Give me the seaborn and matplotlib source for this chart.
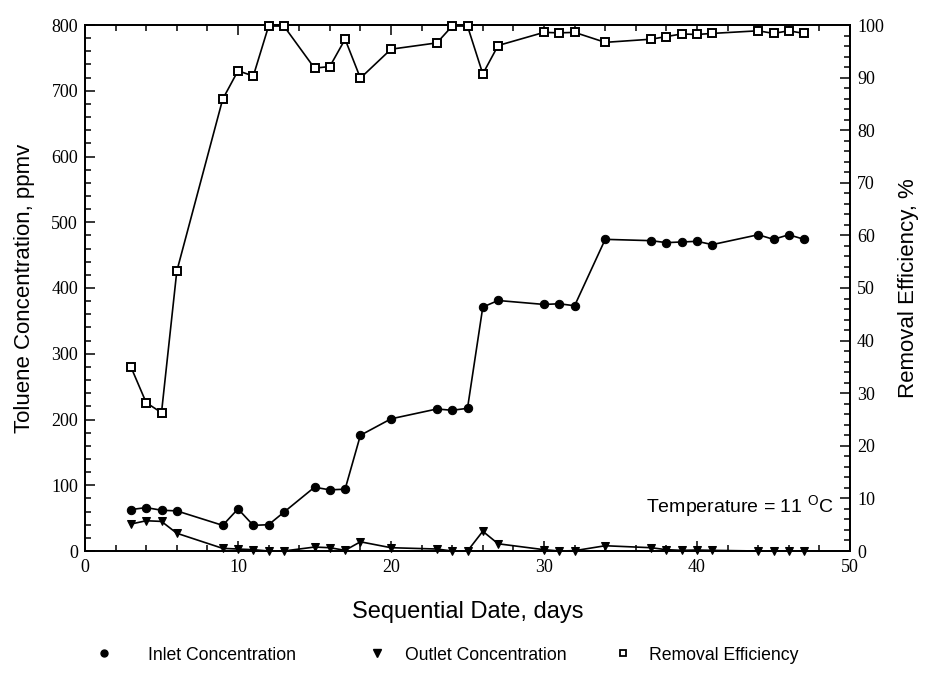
import matplotlib
matplotlib.use("Agg")
import matplotlib.pyplot as plt
import seaborn as sns
import pandas as pd
from matplotlib.lines import Line2D
from matplotlib.ticker import MultipleLocator

days = [3, 4, 5, 6, 9, 10, 11, 12, 13, 15, 16, 17, 18, 20, 23, 24, 25,
        26, 27, 30, 31, 32, 34, 37, 38, 39, 40, 41, 44, 45, 46, 47]
inlet = [63, 66, 62, 61, 39, 64, 39, 40, 59, 97, 93, 94, 176, 201, 216, 214, 217,
         371, 381, 375, 376, 373, 474, 472, 469, 470, 471, 466, 481, 474, 481, 474]
outlet = [41, 46, 45, 27, 4, 3, 2, 0, 0, 6, 5, 1, 14, 5, 3, 0, 0,
          30, 11, 2, 0, 0.5, 8, 5, 2, 1, 1.5, 1, 0, 0, 0, 0]
removal = [35.0, 28.2, 26.3, 53.2, 85.9, 91.3, 90.3, 99.8, 99.8, 91.8, 92.1, 97.3,
           89.9, 95.4, 96.6, 99.8, 99.8, 90.7, 96.1, 98.6, 98.5, 98.6, 96.7, 97.3,
           97.8, 98.3, 98.2, 98.4, 98.9, 98.4, 98.9, 98.4]

legend_labels = ["Inlet Concentration", "Outlet Concentration", "Removal Efficiency"]

df = pd.DataFrame({"day": days, "inlet": inlet, "outlet": outlet, "removal": removal})

sns.set_style("ticks")
plt.rcParams["font.family"] = ["Liberation Sans", "DejaVu Sans"]
for key in ("text.color", "axes.labelcolor", "xtick.color", "ytick.color", "axes.edgecolor"):
    plt.rcParams[key] = "black"

fig = plt.figure(figsize=(9.32, 6.86), dpi=100)
ax = fig.add_axes([85 / 932, 1 - 551 / 686, (850 - 85) / 932, (551 - 25) / 686])
ax2 = ax.twinx()

lw = 1.2
ms = 5.6
sns.lineplot(data=df, x="day", y="inlet", ax=ax, color="black", linewidth=lw,
             marker="o", markersize=ms + 0.4, markerfacecolor="black", markeredgecolor="black",
             clip_on=False, zorder=3)
sns.lineplot(data=df, x="day", y="outlet", ax=ax, color="black", linewidth=lw,
             marker="v", markersize=ms + 0.4, markerfacecolor="black", markeredgecolor="black",
             clip_on=False, zorder=3)
sns.lineplot(data=df, x="day", y="removal", ax=ax2, color="black", linewidth=lw,
             marker="s", markersize=ms, markerfacecolor="white", markeredgecolor="black",
             markeredgewidth=1.4, clip_on=False, zorder=3)

ax.set_xlim(0, 50)
ax.set_ylim(0, 800)
ax2.set_ylim(0, 100)

ax.xaxis.set_major_locator(MultipleLocator(10))
ax.xaxis.set_minor_locator(MultipleLocator(2))
ax.yaxis.set_major_locator(MultipleLocator(100))
ax.yaxis.set_minor_locator(MultipleLocator(20))
ax2.yaxis.set_major_locator(MultipleLocator(10))
ax2.yaxis.set_minor_locator(MultipleLocator(2))

ax.tick_params(which="both", direction="in", top=True, right=False, width=1.1, colors="black")
ax.tick_params(which="major", length=7)
ax.tick_params(which="minor", length=4)
ax2.tick_params(which="both", direction="in", width=1.1, colors="black")
ax2.tick_params(which="major", length=7)
ax2.tick_params(which="minor", length=4)

for a in (ax, ax2):
    for s in a.spines.values():
        s.set_visible(True)
        s.set_linewidth(1.3)
        s.set_color("black")

tick_family = ["Liberation Serif", "DejaVu Serif"]
for lab in ax.get_xticklabels() + ax.get_yticklabels() + ax2.get_yticklabels():
    lab.set_fontfamily(tick_family)
    lab.set_fontsize(13)
ax.tick_params(axis="x", pad=6)
ax.tick_params(axis="y", pad=5)
ax2.tick_params(axis="y", pad=5)

ax.set_xlabel("Sequential Date, days", fontsize=17, labelpad=18)
ax.set_ylabel("Toluene Concentration, ppmv", fontsize=16, labelpad=12)
ax2.set_ylabel("Removal Efficiency, %", fontsize=16, labelpad=10)

ax.text(0.978, 0.085, "Temperature = 11 $^{\\mathregular{O}}$C", transform=ax.transAxes,
        ha="right", va="center", fontsize=14)

handles = [
    Line2D([], [], linestyle="none", marker="o", markersize=5, color="black"),
    Line2D([], [], linestyle="none", marker="v", markersize=6, color="black"),
    Line2D([], [], linestyle="none", marker="s", markersize=5, markerfacecolor="white",
           markeredgecolor="black", markeredgewidth=1.3),
]
xpos = [93 / 932, 366 / 932, 612 / 932]
pads = [1.9, 1.0, 0.9]
for h, lbl, xp, pd_ in zip(handles, legend_labels, xpos, pads):
    fig.legend([h], [lbl], loc="center left", bbox_to_anchor=(xp, 1 - 655 / 686),
               frameon=False, fontsize=12.7, handlelength=1.2, handletextpad=pd_,
               borderaxespad=0, borderpad=0)

fig.savefig("out.png", dpi=100)
